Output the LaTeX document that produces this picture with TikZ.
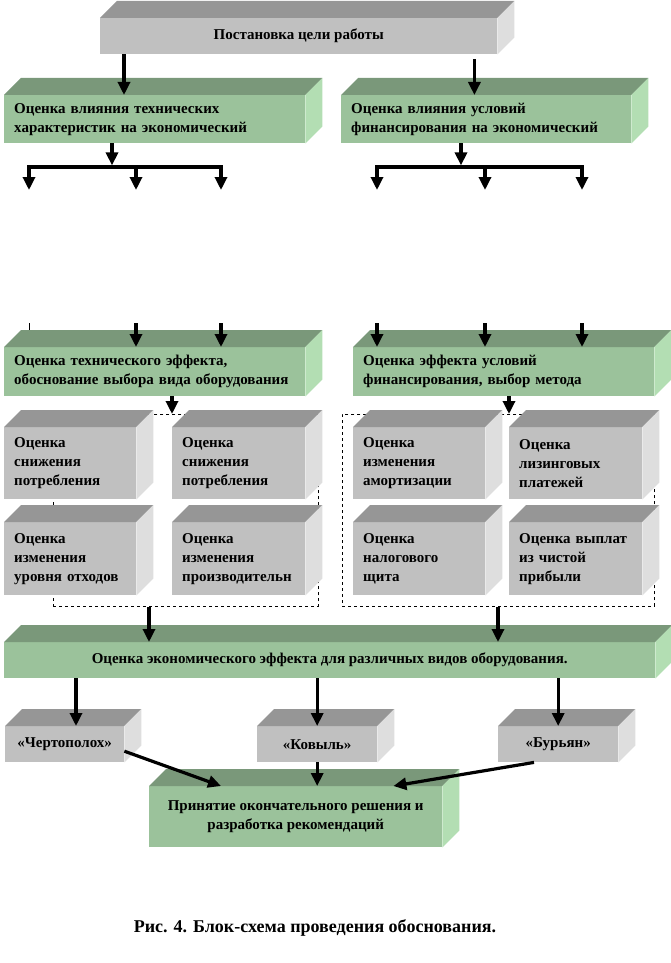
\documentclass[tikz,border=0pt]{standalone}
\usepackage{fontspec}
\setmainfont{Liberation Serif}
\usepackage{xcolor}
\usetikzlibrary{arrows.meta}
\definecolor{greenfront}{RGB}{155,194,155}
\definecolor{greentop}{RGB}{122,152,122}
\definecolor{greenside}{RGB}{179,222,179}
\definecolor{grayfront}{RGB}{192,192,192}
\definecolor{graytop}{RGB}{150,150,150}
\definecolor{grayside}{RGB}{222,222,222}
\tikzset{
  box/.style={anchor=north west,inner xsep=10pt,inner ysep=0pt,font=\bfseries\fontsize{15}{19}\selectfont},
  greenbox/.style={box,fill=greenfront},
  graybox/.style={box,fill=grayfront},
  groupbox/.style={draw,dashed,line width=0.7pt,anchor=north west,inner sep=0pt},
  arr/.style={line width=3.2pt,-{Triangle[width=12pt,length=13pt]}},
  bar/.style={line width=3.2pt,line cap=rect},
}

\begin{document}
\begin{tikzpicture}[x=1pt,y=-1pt]
\useasboundingbox (0,0) rectangle (671,963);
% группы оценок
\node[groupbox,minimum width=265pt,minimum height=192pt] (tgrp) at (53,414) {};
\node[groupbox,minimum width=312pt,minimum height=192pt] (fgrp) at (342,414) {};

% блоки
\node[graybox,align=center,minimum width=397pt,minimum height=36pt] (goal) at (100,18) {Постановка цели работы};
\node[greenbox,text width=281pt,align=left,minimum height=48pt] (techinf) at (4,95) {Оценка влияния технических\\характеристик на экономический};
\node[greenbox,text width=270pt,align=left,minimum height=48pt] (fininf) at (341,95) {Оценка влияния условий\\финансирования на экономический};
\node[greenbox,text width=281pt,align=left,minimum height=49pt] (techeff) at (4,347) {Оценка технического эффекта,\\обоснование выбора вида оборудования};
\node[greenbox,text width=281pt,align=left,minimum height=49pt] (fineff) at (353,347) {Оценка эффекта условий\\финансирования, выбор метода};

\node[graybox,text width=112pt,align=left,minimum height=72pt] (ga1) at (4,427) {Оценка\\снижения\\потребления};
\node[graybox,text width=113pt,align=left,minimum height=72pt] (ga2) at (172,427) {Оценка\\снижения\\потребления};
\node[graybox,text width=112pt,align=left,minimum height=73pt] (ga3) at (4,522) {Оценка\\изменения\\уровня отходов};
\node[graybox,text width=113pt,align=left,minimum height=73pt] (ga4) at (172,522) {Оценка\\изменения\\производительн};
\node[graybox,text width=112pt,align=left,minimum height=72pt] (gb1) at (353,427) {Оценка\\изменения\\амортизации};
\node[graybox,text width=113pt,align=left,minimum height=72pt] (gb2) at (509,427) {Оценка\\лизинговых\\платежей};
\node[graybox,text width=112pt,align=left,minimum height=73pt] (gb3) at (353,522) {Оценка\\налогового\\щита};
\node[graybox,text width=113pt,align=left,minimum height=73pt] (gb4) at (509,522) {Оценка выплат\\из чистой\\прибыли};

\node[greenbox,align=center,minimum width=651pt,minimum height=36pt] (econ) at (4,642) {Оценка экономического эффекта для различных видов оборудования.};
\node[graybox,align=center,minimum width=119pt,minimum height=36pt] (ch) at (5,726) {«Чертополох»};
\node[graybox,align=center,minimum width=120pt,minimum height=36pt] (kv) at (257,726) {«Ковыль»};
\node[graybox,align=center,minimum width=120pt,minimum height=36pt] (bu) at (498,726) {«Бурьян»};
\node[greenbox,align=center,minimum width=293pt,minimum height=61pt] (final) at (149,786) {Принятие окончательного решения и\\разработка рекомендаций};

\node[font=\bfseries\fontsize{18}{22}\selectfont] (cap) at (315,928) {Рис. 4. Блок-схема проведения обоснования.};

% верх и бок блоков
\foreach \n/\t/\s in {goal/graytop/grayside,techinf/greentop/greenside,fininf/greentop/greenside,
  techeff/greentop/greenside,fineff/greentop/greenside,ga1/graytop/grayside,ga2/graytop/grayside,
  ga3/graytop/grayside,ga4/graytop/grayside,gb1/graytop/grayside,gb2/graytop/grayside,
  gb3/graytop/grayside,gb4/graytop/grayside,econ/greentop/greenside,ch/graytop/grayside,
  kv/graytop/grayside,bu/graytop/grayside,final/greentop/greenside} {
  \fill[\t] (\n.north west) -- ++(17,-17) -- ([shift={(17,-17)}]\n.north east) -- (\n.north east) -- cycle;
  \fill[\s] (\n.north east) -- ++(17,-17) -- ([shift={(17,-17)}]\n.south east) -- (\n.south east) -- cycle;
}

% связи
\coordinate (g1) at ([shift={(24,0)}]goal.south west);
\coordinate (g2) at ([shift={(-23,5)}]goal.south east);
\draw[arr] (g1) -- (g1 |- techinf.north);
\draw[arr] (g2) -- (g2 |- fininf.north);

\coordinate (tl) at ([shift={(108,0)}]techinf.south west);
\coordinate (fl) at ([shift={(120,0)}]fininf.south west);
\draw[arr] (tl) -- ([shift={(0,22)}]tl);
\draw[arr] (fl) -- ([shift={(0,22)}]fl);
\foreach \x [count=\i] in {29,136,221} {
  \coordinate (ta\i) at (\x,167);
  \coordinate (tb\i) at (\x,190);
  \coordinate (tc\i) at (\x,323);
}
\foreach \x [count=\i] in {377,485,582} {
  \coordinate (fa\i) at (\x,167);
  \coordinate (fb\i) at (\x,190);
  \coordinate (fc\i) at (\x,323);
}
\draw[bar] (ta1) -- (ta3);
\draw[bar] (fa1) -- (fa3);
\foreach \i in {1,2,3} {
  \draw[arr] (ta\i) -- (tb\i);
  \draw[arr] (fa\i) -- (fb\i);
  \draw[arr] (fc\i) -- (fc\i |- fineff.north);
}
\foreach \i in {2,3}
  \draw[arr] (tc\i) -- (tc\i |- techeff.north);
\draw[line width=0.8pt] (tc1) -- ([shift={(0,7)}]tc1);

\coordinate (e1) at ([shift={(168,0)}]techeff.south west);
\coordinate (e2) at ([shift={(156,0)}]fineff.south west);
\draw[arr] (e1) -- (e1 |- tgrp.north);
\draw[arr] (e2) -- (e2 |- fgrp.north);

\coordinate (s1) at ([shift={(96,0)}]tgrp.south west);
\coordinate (s2) at ([shift={(156,0)}]fgrp.south west);
\draw[arr] (s1) -- (s1 |- econ.north);
\draw[arr] (s2) -- (s2 |- econ.north);

\coordinate (c1) at ([shift={(72,0)}]econ.south west);
\draw[arr] (c1) -- (c1 |- ch.north);
\draw[arr] (kv.north |- econ.south) -- (kv.north);
\draw[arr] (bu.north |- econ.south) -- (bu.north);

\draw[arr] ([shift={(0,7)}]ch.east) -- ([shift={(72,0)}]final.north west);
\draw[arr] (kv.south) -- (kv.south |- final.north);
\draw[arr] ([shift={(36,0)}]bu.south west) -- ([shift={(-49,0)}]final.north east);
\end{tikzpicture}
\end{document}
